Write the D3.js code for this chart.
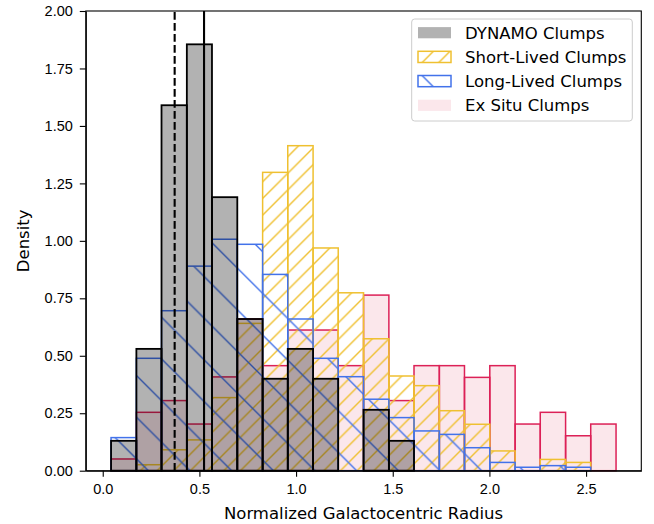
<!DOCTYPE html>
<html>
<head>
<meta charset="utf-8">
<script src="https://d3js.org/d3.v7.min.js"></script>
<style>
  body { margin: 0; background: #fff; }
  svg { font-family: "DejaVu Sans", sans-serif; }
  .axis text { font-size: 14.5px; fill: #000; }
  .axis path, .axis line { stroke: #000; stroke-width: 1.1; }
  .axis-label { font-size: 16.5px; fill: #000; }
  .legend text { font-size: 16.5px; fill: #000; }
</style>
</head>
<body>
<svg width="654" height="524"></svg>
<script>
// Shared bin edges (normalized radius) of the four histograms
var binEdges = [0.043, 0.174, 0.304, 0.435, 0.565, 0.696, 0.827, 0.957, 1.088, 1.218, 1.349,
                1.480, 1.610, 1.741, 1.871, 2.002, 2.133, 2.263, 2.394, 2.524, 2.655];

// Density per bin (null = no bar drawn)
var dynamoDensity = [0.13, 0.53, 1.59, 1.855, 1.19, 0.66, 0.40, 0.53, 0.40, 0, 0.265, 0.13,
                     null, null, null, null, null, null, null, null];
var shortLivedDensity = [0, 0.026, 0.091, 0.134, 0.318, 0.641, 1.298, 1.414, 0.969, 0.774, 0.574,
                         0.412, 0.370, 0.261, 0.202, 0.086, 0, 0.049, 0.036, 0];
var longLivedDensity = [0.144, 0.489, 0.696, 0.890, 1.007, 0.985, 0.854, 0.660, 0.489, 0.409, 0.311,
                        0.231, 0.173, 0.158, 0.100, 0.036, 0.015, 0.022, 0.015, 0];
var exSituDensity = [0.051, 0.254, 0.305, 0.203, 0.408, 0.66, 0.457, 0.612, 0.612, 0.457, 0.764,
                     0.305, 0.457, 0.457, 0.406, 0.457, 0.203, 0.254, 0.152, 0.203];

// Vertical reference lines
var dashedLineX = 0.372;
var solidLineX = 0.524;

var xTicks = [0.0, 0.5, 1.0, 1.5, 2.0, 2.5];
var yTicks = [0, 0.25, 0.5, 0.75, 1.0, 1.25, 1.5, 1.75, 2.0];
var legendLabels = ['DYNAMO Clumps', 'Short-Lived Clumps', 'Long-Lived Clumps', 'Ex Situ Clumps'];

var svg = d3.select('svg');

// Plot area in page pixels
var plot = {l: 85.8, r: 641.3, t: 11, b: 470.7};

var xScale = d3.scaleLinear()
    .domain([-0.0876, 2.7856])
    .range([plot.l, plot.r]);

var yScale = d3.scaleLinear()
    .domain([0, 2])
    .range([plot.b, plot.t]);

var yellow = '#efc030';
var blue = '#4272ea';
var crimson = '#dc2157';

// Hatch patterns, anchored to the page like matplotlib does
var defs = svg.append('defs');

function addHatch(id, color, size, offset, forward) {
    var p = defs.append('pattern')
        .attr('id', id)
        .attr('patternUnits', 'userSpaceOnUse')
        .attr('width', size)
        .attr('height', size)
        .attr('x', forward ? offset : 0)
        .attr('y', forward ? 0 : offset);
    var s = size;
    var d = forward
        ? 'M0,' + s + 'L' + s + ',0 M-2,2 L2,-2 M' + (s - 2) + ',' + (s + 2) + 'L' + (s + 2) + ',' + (s - 2)
        : 'M0,0 L' + s + ',' + s + ' M-2,' + (s - 2) + 'L2,' + (s + 2) + ' M' + (s - 2) + ',-2 L' + (s + 2) + ',2';
    p.append('path')
        .attr('d', d)
        .attr('stroke', color)
        .attr('stroke-width', 1.4)
        .attr('fill', 'none');
}
addHatch('hatchShort', yellow, 16.67, 11, true);
addHatch('hatchLong', blue, 41.67, 30.7, false);

function toBins(values) {
    var bins = [];
    values.forEach(function(v, i) {
        if (v === null) return;
        bins.push({x0: binEdges[i], x1: binEdges[i + 1], y: v});
    });
    return bins;
}

function drawHist(cls, values, fill, stroke, width) {
    svg.append('g')
        .attr('class', cls)
        .selectAll('rect')
        .data(toBins(values))
        .enter()
        .append('rect')
        .attr('x', function(d) { return xScale(d.x0); })
        .attr('y', function(d) { return yScale(d.y); })
        .attr('width', function(d) { return xScale(d.x1) - xScale(d.x0); })
        .attr('height', function(d) { return yScale(0) - yScale(d.y); })
        .attr('fill', fill)
        .attr('stroke', stroke)
        .attr('stroke-width', width);
}

// Drawing order: ex situ, short-lived, long-lived, then DYNAMO on top
drawHist('exsitu', exSituDensity, 'rgba(220,20,60,0.1)', crimson, 1.5);
drawHist('short', shortLivedDensity, 'url(#hatchShort)', yellow, 1.5);
drawHist('long', longLivedDensity, 'url(#hatchLong)', blue, 1.5);
drawHist('dynamo', dynamoDensity, 'rgba(0,0,0,0.3)', '#000', 1.8);

// Vertical lines
svg.append('line')
    .attr('x1', xScale(dashedLineX)).attr('x2', xScale(dashedLineX))
    .attr('y1', yScale(0)).attr('y2', yScale(2))
    .attr('stroke', '#000')
    .attr('stroke-width', 2.1)
    .attr('stroke-dasharray', '7.7,3.3');

svg.append('line')
    .attr('x1', xScale(solidLineX)).attr('x2', xScale(solidLineX))
    .attr('y1', yScale(0)).attr('y2', yScale(2))
    .attr('stroke', '#000')
    .attr('stroke-width', 2.1);

// Axes
svg.append('g')
    .attr('class', 'x axis')
    .attr('transform', 'translate(' + [0, plot.b] + ')')
    .call(d3.axisBottom(xScale).tickValues(xTicks).tickFormat(d3.format('.1f'))
        .tickSize(6).tickPadding(7).tickSizeOuter(0));

svg.append('g')
    .attr('class', 'y axis')
    .attr('transform', 'translate(' + [plot.l, 0] + ')')
    .call(d3.axisLeft(yScale).tickValues(yTicks).tickFormat(d3.format('.2f'))
        .tickSize(6).tickPadding(7).tickSizeOuter(0));

// Frame (all four spines)
svg.append('rect')
    .attr('x', plot.l)
    .attr('y', plot.t)
    .attr('width', plot.r - plot.l)
    .attr('height', plot.b - plot.t)
    .attr('fill', 'none')
    .attr('stroke', '#000')
    .attr('stroke-width', 1.1);

svg.append('text')
    .attr('class', 'axis-label')
    .attr('text-anchor', 'middle')
    .attr('x', (plot.l + plot.r) / 2)
    .attr('y', 519)
    .text('Normalized Galactocentric Radius');

svg.append('text')
    .attr('class', 'axis-label')
    .attr('text-anchor', 'middle')
    .attr('transform', 'translate(' + [29, (plot.t + plot.b) / 2] + ') rotate(-90)')
    .text('Density');

// Legend
var legend = svg.append('g').attr('class', 'legend');

legend.append('rect')
    .attr('x', 411.7)
    .attr('y', 19)
    .attr('width', 220.6)
    .attr('height', 102)
    .attr('rx', 3)
    .attr('fill', 'rgba(255,255,255,0.8)')
    .attr('stroke', '#cccccc')
    .attr('stroke-width', 1);

var legendStyles = [
    {fill: 'rgba(0,0,0,0.3)', stroke: 'none'},
    {fill: 'url(#hatchShort)', stroke: yellow},
    {fill: 'url(#hatchLong)', stroke: blue},
    {fill: 'rgba(220,20,60,0.1)', stroke: 'none'}
];

var rows = legend.selectAll('g.row')
    .data(legendLabels)
    .enter()
    .append('g')
    .attr('class', 'row')
    .attr('transform', function(d, i) { return 'translate(' + [0, 32.7 + i * 24.2] + ')'; });

rows.append('rect')
    .attr('x', 418)
    .attr('y', -5.6)
    .attr('width', 33)
    .attr('height', 11.2)
    .attr('fill', function(d, i) { return legendStyles[i].fill; })
    .attr('stroke', function(d, i) { return legendStyles[i].stroke; })
    .attr('stroke-width', 1.5);

rows.append('text')
    .attr('x', 465)
    .attr('dy', '0.36em')
    .text(function(d) { return d; });
</script>
</body>
</html>
